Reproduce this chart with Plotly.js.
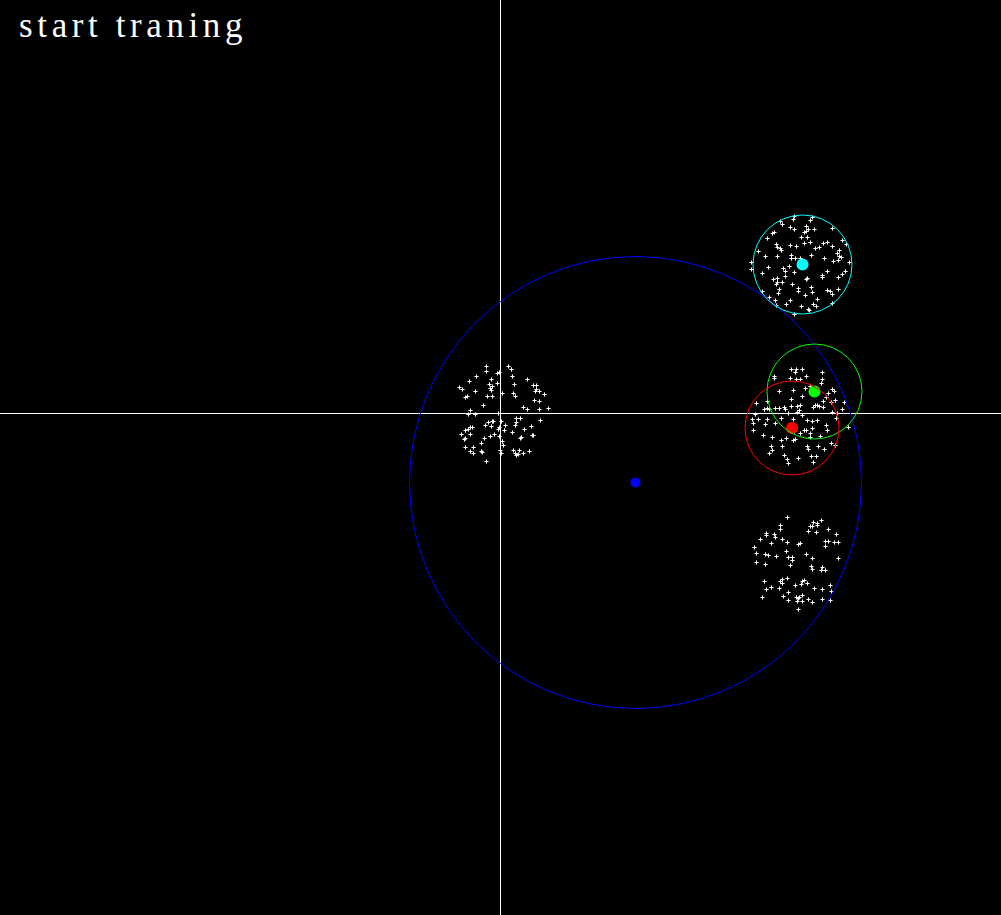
<!DOCTYPE html>
<html>
<head>
<meta charset="utf-8">
<script src="https://cdn.plot.ly/plotly-3.0.1.min.js"></script>
<style>
html,body{margin:0;padding:0;background:#000;}
#chart{width:1001px;height:915px;}
#chart .annotation-text{letter-spacing:4.6px;}
</style>
</head>
<body>
<div id="chart"></div>
<script>
// Cluster A (around origin)
const clusterAX = [-14,-14,8,11,-1,-3,-24,12,-9,-31,27,14,-11,-3,-8,-10,-9,33,36,-41,-38,-25,36,35,39,2,13,44,15,-13,-8,-33,-35,34,39,-17,23,27,39,48,-30,
  -32,-25,-2,16,20,40,-8,-12,-7,1,16,-15,-9,5,15,31,-30,-28,-32,-1,-2,4,12,24,-35,-39,-30,-6,-10,-16,-1,32,33,21,20,-36,-35,2,3,-19,-35,-27,-30,-27,-19,-18,0,1,13,19,15,16,18,23,29,-14];
const clusterAY = [47,42,47,44,41,40,37,37,34,32,34,29,29,30,27,25,23,28,28,26,24,22,24,22,22,20,20,19,17,17,17,17,16,13,12,8,6,4,4,5,3,
  -1,-1,0,-5,-5,-7,-8,-9,-8,-8,-9,-12,-13,-12,-12,-13,-14,-14,-16,-14,-16,-17,-19,-16,-17,-21,-21,-21,-23,-25,-23,-22,-22,-24,-25,-26,-25,-28,-32,-30,-34,-34,-38,-40,-38,-39,-37,-40,-37,-37,-40,-42,-41,-40,-38,-48];

// Cluster B (cyan)
const clusterBX = [294,312,293,280,310,282,306,290,294,308,314,332,306,304,274,272,267,301,307,276,277,280,281,290,296,304,310,315,319,323,327,332,342,346,258,339,337,339,341,265,277,291,291,295,300,311,324,333,338,251,349,268,283,289,285,285,294,251,262,322,322,327,342,345,338,277,273,277,276,282,307,306,292,298,298,311,312,262,279,278,305,327,330,332,338,269,275,290,286,317,332,276,301,313,316,308,309,294];
const clusterBY = [197,196,194,192,193,189,187,186,184,184,184,185,182,181,181,180,175,176,176,169,166,165,163,168,167,170,171,165,166,170,171,167,173,169,162,163,160,157,156,157,157,158,155,155,155,158,155,152,153,151,151,146,145,147,142,137,141,144,140,138,136,142,139,142,136,135,134,131,129,131,135,134,129,125,122,126,121,122,124,120,118,123,122,119,124,116,113,113,109,114,110,108,107,109,107,104,103,99];

// Cluster C (red / green)
const clusterCX = [291,296,302,295,274,274,290,296,300,306,322,322,321,305,279,293,310,332,334,328,326,291,302,256,267,267,264,269,275,279,284,285,291,297,300,299,297,302,313,315,317,319,323,323,331,335,344,342,332,337,255,252,253,258,253,265,267,275,281,288,293,307,312,317,294,300,304,306,310,312,326,327,336,348,263,272,281,286,293,295,310,320,331,335,271,282,307,308,318,272,269,324,284,298,311,316,287,288,313];
const clusterCY = [44,44,44,41,37,35,35,34,34,37,41,34,30,25,22,23,27,24,22,20,16,14,17,10,12,5,4,4,5,5,6,4,7,7,8,3,1,-2,6,8,8,7,6,12,11,13,11,4,1,0,-1,-6,-10,-6,-17,-11,-6,-10,-5,0,-6,-7,-8,-7,-18,-20,-17,-17,-20,-15,-12,-17,-5,-14,-22,-24,-27,-25,-27,-26,-24,-23,-30,-32,-33,-33,-33,-36,-33,-37,-40,-36,-42,-45,-43,-43,-46,-50,-49];

// Cluster D (lower right, no centre)
const clusterDX = [287,280,280,310,312,313,317,317,321,328,308,316,266,266,274,275,260,282,287,271,298,300,325,328,334,338,336,325,254,286,256,265,268,276,288,292,292,306,312,338,256,265,290,311,312,321,322,325,287,282,280,282,264,295,301,302,304,307,271,279,266,288,314,322,330,331,283,296,298,297,299,302,302,308,312,322,288,262,330,298];
const clusterDY = [-104,-112,-116,-113,-113,-109,-110,-112,-107,-116,-118,-119,-120,-122,-121,-124,-126,-126,-129,-130,-131,-130,-128,-128,-129,-129,-121,-133,-134,-138,-140,-141,-142,-143,-144,-144,-147,-141,-145,-145,-149,-151,-152,-153,-156,-157,-154,-157,-165,-166,-168,-170,-168,-172,-171,-168,-167,-170,-174,-175,-176,-179,-175,-176,-172,-178,-183,-184,-185,-188,-184,-182,-188,-186,-189,-186,-187,-184,-187,-196];

// Centroids and their circles
const centerNames = ["blue", "cyan", "green", "red"];
const centerX = [135, 302, 314, 291.5];
const centerY = [-69, 149, 22, -14.5];
const centerRadius = [226, 49.5, 47.5, 47];
const centerColors = ["#0000ff", "#00ffff", "#00ff00", "#ff0000"];

const titleText = "start traning";

const pointsX = clusterAX.concat(clusterBX, clusterCX, clusterDX);
const pointsY = clusterAY.concat(clusterBY, clusterCY, clusterDY);

const traces = [
  {
    type: "scatter", mode: "markers", x: pointsX, y: pointsY,
    marker: {symbol: "cross-thin", size: 3, color: "#ffffff", opacity: 1, line: {color: "#ffffff", width: 1}},
    hoverinfo: "none", showlegend: false
  },
  {
    type: "scatter", mode: "markers", x: centerX, y: centerY, text: centerNames,
    marker: {symbol: "circle", size: [10, 12, 12, 12], color: centerColors, opacity: 1, line: {width: 0}},
    hoverinfo: "none", showlegend: false
  }
];

const shapes = centerX.map((cx, i) => ({
  type: "circle", xref: "x", yref: "y",
  x0: cx - centerRadius[i], x1: cx + centerRadius[i],
  y0: centerY[i] - centerRadius[i], y1: centerY[i] + centerRadius[i],
  line: {color: centerColors[i], width: 1}, layer: "above"
}));

const layout = {
  width: 1001, height: 915,
  margin: {l: 0, r: 0, t: 0, b: 0, pad: 0},
  paper_bgcolor: "#000000", plot_bgcolor: "#000000",
  showlegend: false,
  xaxis: {range: [-500.5, 500.5], showgrid: false, zeroline: true, zerolinecolor: "#ffffff", zerolinewidth: 1,
          showticklabels: false, ticks: "", showline: false, fixedrange: true},
  yaxis: {range: [-501.5, 413.5], showgrid: false, zeroline: true, zerolinecolor: "#ffffff", zerolinewidth: 1,
          showticklabels: false, ticks: "", showline: false, fixedrange: true},
  shapes: shapes,
  annotations: [{
    text: titleText, xref: "paper", yref: "paper", x: 0, y: 1,
    xanchor: "left", yanchor: "top", xshift: 47, yshift: -4, showarrow: false,
    font: {family: "Liberation Serif, DejaVu Serif, serif", size: 35, color: "#ffffff"}
  }]
};

Plotly.newPlot("chart", traces, layout, {staticPlot: true, displayModeBar: false});
</script>
</body>
</html>
